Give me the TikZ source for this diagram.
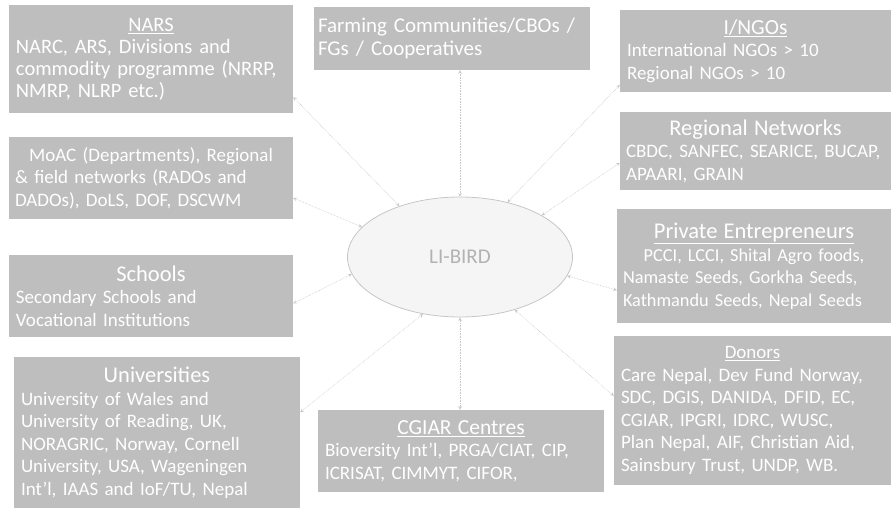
\documentclass[tikz,border=0pt]{standalone}
\usepackage{fontspec}
\setmainfont{Carlito}
\usepackage{tikz}
\usetikzlibrary{shapes.geometric}

\definecolor{boxgray}{RGB}{190,190,190}
\newcommand{\boxhead}[1]{{\centering #1\par}}
\newcommand{\bigboxhead}[1]{{\centering\fontsize{22.5}{23}\selectfont #1\par}}
\newcommand{\midboxhead}[1]{{\centering\fontsize{21.5}{23}\selectfont #1\par}}

\begin{document}
\begin{tikzpicture}[x=1pt,y=-1pt,
    actor/.style ={rectangle, fill=boxgray, text=white, align=left, inner sep=0pt,
                   font=\fontsize{19}{22.5}\selectfont},
    hub/.style ={ellipse, draw=gray!45, fill=gray!8, text=gray!60, thick,
                 minimum width=225pt, minimum height=120pt, font=\fontsize{21}{24}\selectfont},
    link/.style ={<->, >=stealth, densely dotted, gray!45, semithick}]
   \useasboundingbox (0,0) rectangle (891,508);

   \node[hub] (lib) at (460,257) {LI-BIRD};

   \node[actor, minimum width=284pt, minimum height=108pt, text width=270pt,
         font=\fontsize{20.5}{22}\selectfont] (nars) at (151,59)
     {\boxhead{\underline{NARS}}NARC, ARS, Divisions and\\commodity programme (NRRP,\\NMRP, NLRP etc.)};
   \node[actor, minimum width=276pt, minimum height=63pt, text width=268pt,
         font=\fontsize{21}{23}\selectfont] (farm) at (452,38.5)
     {Farming Communities/CBOs /\\FGs / Cooperatives};
   \node[actor, minimum width=271pt, minimum height=82pt, text width=257pt] (ngos) at (755.5,51)
     {\midboxhead{\underline{I/NGOs}}International NGOs > 10\\Regional NGOs > 10};
   \node[actor, minimum width=284pt, minimum height=82pt, text width=272pt] (moa) at (151,178)
     {\boxhead{MoAC (Departments), Regional}\& field networks (RADOs and\\DADOs), DoLS, DOF, DSCWM};
   \node[actor, minimum width=271pt, minimum height=78pt, text width=259pt] (regnet) at (755.5,151)
     {\bigboxhead{Regional Networks}CBDC, SANFEC, SEARICE, BUCAP,\\APAARI, GRAIN};
   \node[actor, minimum width=274pt, minimum height=114pt, text width=262pt,
         font=\fontsize{18.3}{22.5}\selectfont] (priv) at (754,266)
     {\bigboxhead{\underline{Private Entrepreneurs}}\boxhead{PCCI, LCCI, Shital Agro foods,}Namaste Seeds, Gorkha Seeds,\\Kathmandu Seeds, Nepal Seeds};
   \node[actor, minimum width=284pt, minimum height=82pt, text width=270pt] (schools) at (151,296)
     {\bigboxhead{Schools}Secondary Schools and\\Vocational Institutions};
   \node[actor, minimum width=286pt, minimum height=151pt, text width=272pt] (univ) at (157,432.5)
     {\bigboxhead{Universities}University of Wales and\\University of Reading, UK,\\NORAGRIC, Norway, Cornell\\University, USA, Wageningen\\Int'l, IAAS and IoF/TU, Nepal};
   \node[actor, minimum width=286pt, minimum height=82pt, text width=272pt] (cgiar) at (461,451)
     {\midboxhead{\underline{CGIAR Centres}}Bioversity Int'l, PRGA/CIAT, CIP,\\ICRISAT, CIMMYT, CIFOR,};
   \node[actor, minimum width=277pt, minimum height=149pt, text width=263pt] (donors) at (752.5,410.5)
     {\boxhead{\underline{Donors}}Care Nepal, Dev Fund Norway,\\SDC, DGIS, DANIDA, DFID, EC,\\CGIAR, IPGRI, IDRC, WUSC,\\Plan Nepal, AIF, Christian Aid,\\Sainsbury Trust, UNDP, WB.};

   \draw[link] (lib.140) to (nars.-15);
   \draw[link] (lib.north) to (lib.north |- farm.south);
   \draw[link] (lib.49) to (ngos.194);
   \draw[link] (lib.163) to (moa.-8);
   \draw[link] (lib.27) to (regnet.185);
   \draw[link] (lib.-10) to (priv.190);
   \draw[link] (lib.189) to (schools.-3);
   \draw[link] (lib.237) to (univ.8);
   \draw[link] (lib.south) to (lib.south |- cgiar.north);
   \draw[link] (lib.-44) to (donors.174);
 \end{tikzpicture}
\end{document}
